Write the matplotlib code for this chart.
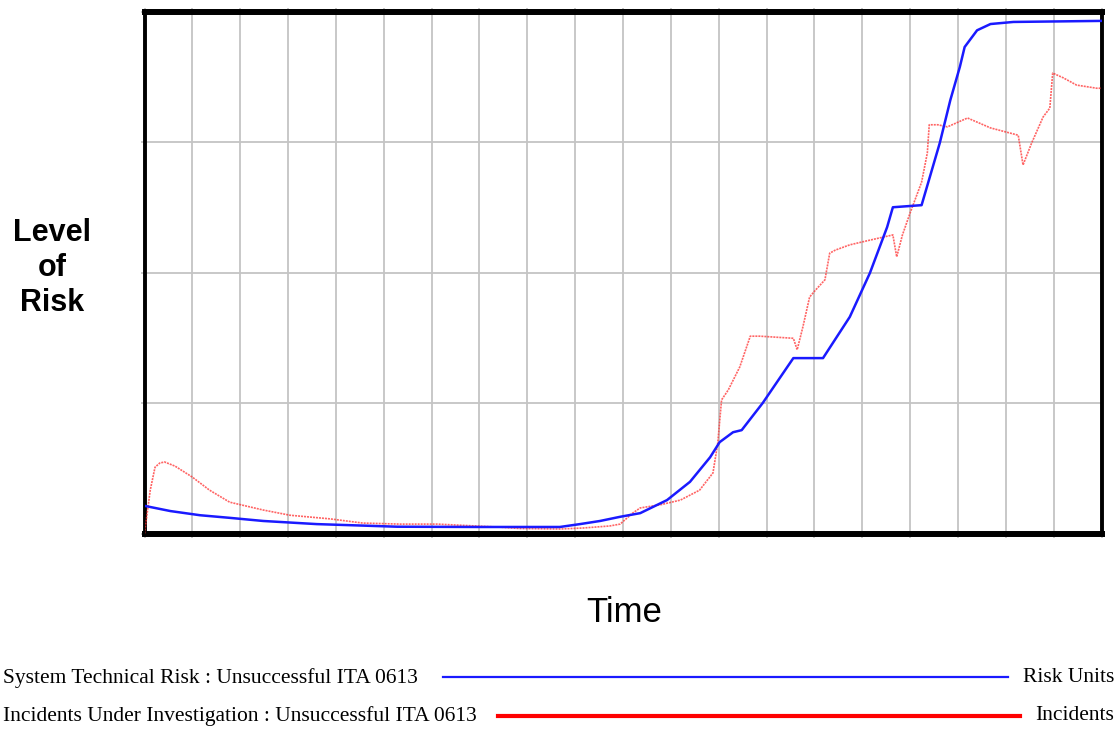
import matplotlib
matplotlib.use("Agg")
import matplotlib.pyplot as plt
from matplotlib.lines import Line2D

# ---- data (time 0..100, level 0..100) ----
risk_t = [0, 2.7, 5.8, 8.9, 12.4, 18.0, 26.4, 35.0, 43.4, 45.5, 47.6, 49.7, 51.8,
          54.6, 57.0, 59.1, 60.1, 61.5, 62.4, 64.6, 67.8, 70.9, 73.7, 75.8, 77.6,
          78.2, 81.2, 83.1, 84.2, 85.2, 85.7, 87.0, 88.4, 90.8, 100]
risk_v = [5.3, 4.3, 3.5, 3.0, 2.4, 1.8, 1.3, 1.25, 1.25, 1.8, 2.4, 3.2, 3.9,
          6.4, 9.9, 14.6, 17.5, 19.4, 19.8, 25.0, 33.6, 33.6, 41.5, 49.9, 58.7,
          62.5, 62.9, 74.8, 83.0, 89.4, 93.2, 96.4, 97.6, 98.0, 98.2]

inc_t = [0, 0.6, 1.1, 1.6, 2.1, 3.2, 5.0, 6.8, 8.9, 12.4, 15.2, 19.4, 22.8, 26.7,
         30.6, 36.8, 39.2, 43.4, 45.8, 48.6, 49.7, 51.0, 51.8, 53.9, 56.0, 58.0,
         59.4, 59.9, 60.3, 61.0, 62.2, 63.3, 64.3, 67.8, 68.2, 68.8, 69.5, 70.1,
         71.1, 71.6, 72.2, 73.7, 75.8, 78.2, 78.6, 79.2, 80.0, 81.2, 81.8, 82.0,
         82.9, 83.9, 86.0, 88.4, 91.3, 91.8, 92.7, 93.9, 94.6, 94.9, 96.0, 97.4,
         99.5, 100]
inc_v = [0, 8.3, 12.7, 13.5, 13.7, 12.9, 10.8, 8.3, 6.0, 4.5, 3.5, 2.8, 2.0, 1.8,
         1.8, 1.25, 0.96, 0.86, 1.05, 1.44, 1.8, 3.9, 4.9, 5.5, 6.4, 8.3,
         11.6, 17.3, 25.6, 27.5, 31.9, 37.8, 37.8, 37.4, 35.2, 39.6, 45.3, 46.6,
         48.6, 53.7, 54.3, 55.3, 56.2, 57.2, 53.0, 57.2, 61.4, 67.3, 72.9, 78.3,
         78.3, 77.9, 79.6, 77.7, 76.3, 70.6, 74.8, 79.8, 81.5, 88.2, 87.3, 85.9,
         85.3, 85.3]

risk_label = "System Technical Risk : Unsuccessful ITA 0613"
inc_label = "Incidents Under Investigation : Unsuccessful ITA 0613"
risk_unit = "Risk Units"
inc_unit = "Incidents"

W, H = 1120, 731
fig = plt.figure(figsize=(W / 100, H / 100), dpi=100)
fig.patch.set_facecolor("white")

ax = fig.add_axes([144.5 / W, 1 - 533.5 / H, 957 / W, 522 / H])
ax.set_xlim(0, 100)
ax.set_ylim(0, 100)
ax.set_xticks(range(0, 101, 5))
ax.set_yticks(range(0, 101, 25))
ax.grid(True, color="#c4c4c4", linewidth=1.3)
ax.set_axisbelow(True)
ax.tick_params(axis="both", which="both", labelbottom=False, labelleft=False,
               length=3, width=1.3, color="#c4c4c4", direction="out",
               top=True, right=False)
for side, lw in (("left", 2.8), ("right", 2.8), ("top", 4.3), ("bottom", 4.3)):
    ax.spines[side].set_linewidth(lw)
    ax.spines[side].set_color("black")

ax.plot(inc_t, inc_v, color="#ff3030", linewidth=1.2, alpha=0.75,
        linestyle=(0, (1.2, 0.6)), clip_on=True, zorder=3)
ax.plot(risk_t, risk_v, color="#1a1aff", linewidth=1.8, zorder=4)

# axis titles
fig.text(52 / W, 1 - 268 / H, "Level\nof\nRisk", ha="center", va="center",
         fontsize=22, fontweight="bold", family="Liberation Sans", linespacing=1.2)
fig.text(624 / W, 1 - 612 / H, "Time", ha="center", va="center",
         fontsize=25, family="Liberation Sans")

# legend rows
fs = 15.5
fig.text(3 / W, 1 - 678 / H, risk_label, ha="left", va="center",
         fontsize=fs, family="Liberation Serif")
fig.text(3 / W, 1 - 716 / H, inc_label, ha="left", va="center",
         fontsize=fs, family="Liberation Serif")
fig.text(1114 / W, 1 - 678 / H, risk_unit, ha="right", va="center",
         fontsize=fs, family="Liberation Serif")
fig.text(1114 / W, 1 - 716 / H, inc_unit, ha="right", va="center",
         fontsize=fs, family="Liberation Serif")
fig.add_artist(Line2D([443 / W, 1008 / W], [1 - 677 / H, 1 - 677 / H],
                      color="#1a1aff", linewidth=1.6, transform=fig.transFigure))
fig.add_artist(Line2D([498 / W, 1020 / W], [1 - 716 / H, 1 - 716 / H],
                      color="#ff0000", linewidth=3.0, transform=fig.transFigure))

fig.savefig("out.png", dpi=100)
